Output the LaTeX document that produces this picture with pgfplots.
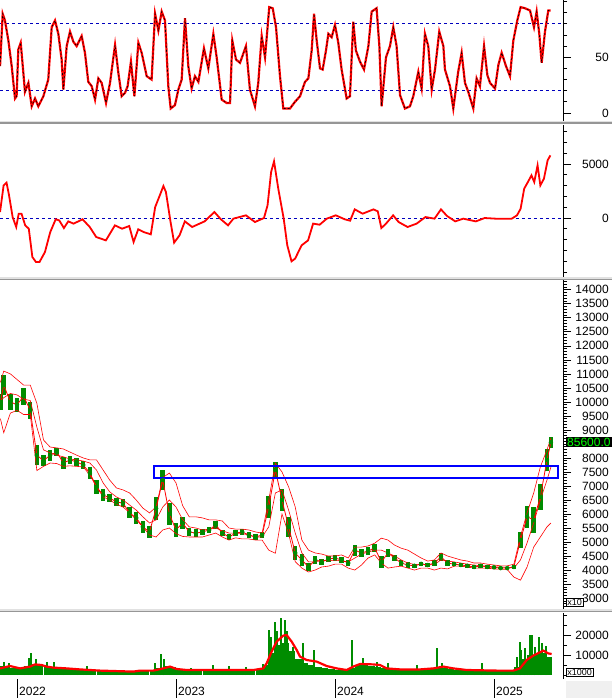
\documentclass[border=0pt]{standalone}
\usepackage{fontspec}
\setmainfont{Liberation Sans}
\usepackage{pgfplots}
\usepackage{pgfplotstable}
\pgfplotsset{compat=1.18}

\definecolor{candle}{RGB}{0,140,0}
\definecolor{volgreen}{RGB}{0,140,0}
\definecolor{refblue}{RGB}{0,0,190}
\definecolor{sepdark}{RGB}{150,150,150}
\definecolor{seplight}{RGB}{225,225,225}
\definecolor{lastgreen}{RGB}{0,255,0}

\pgfplotsset{
  panel/.style={
    scale only axis, width=563pt,
    xmin=-1.283, xmax=41.21,
    axis x line=none,
    axis y line*=right,
    y axis line style={-, line width=0.8pt},
    tick align=outside,
    major tick length=8pt, minor tick length=4pt,
    every tick/.style={black, line width=0.7pt},
    scaled y ticks=false,
    yticklabel style={anchor=east, inner sep=0pt, xshift=38pt,
      font=\fontsize{12}{14}\selectfont,
      /pgf/number format/fixed, /pgf/number format/1000 sep={},
      /pgf/number format/assume math mode=true},
  }
}

% stochastic oscillator
\pgfplotstableread{
m v
-1.28 42
-1.08 89
-0.91 83
-0.65 65
-0.40 42
-0.15 13
-0.03 15
0.10 57
0.28 63
0.48 36
0.60 19
0.86 27
1.11 6
1.36 13
1.61 6
1.99 15
2.36 30
2.62 77
2.87 83
3.12 71
3.37 48
3.50 21
3.75 60
4.00 73
4.25 64
4.50 60
4.88 69
5.13 54
5.38 28
5.64 24
5.89 12
6.14 31
6.39 27
6.72 9
7.02 27
7.40 61
7.65 36
7.90 15
8.15 18
8.35 24
8.60 46
8.86 15
9.16 63
9.41 54
9.79 33
10.16 30
10.42 89
10.67 74
10.92 91
11.17 83
11.42 24
11.60 4
11.92 7
12.18 21
12.43 30
12.68 85
12.93 42
13.18 22
13.43 33
13.69 28
14.11 58
14.44 40
14.82 71
15.07 50
15.45 12
15.82 9
16.08 9
16.25 65
16.53 48
16.83 45
17.28 60
17.58 21
17.96 6
18.21 27
18.47 69
18.72 50
19.04 95
19.30 94
19.55 77
19.85 33
20.10 4
20.60 4
20.98 10
21.36 15
21.74 28
21.99 31
22.24 56
22.42 89
22.62 65
22.87 40
23.07 39
23.32 56
23.50 71
23.75 68
24.00 79
24.25 63
24.50 39
24.88 13
25.13 15
25.38 82
25.58 56
25.89 46
26.19 39
26.52 60
26.77 91
27.14 94
27.35 60
27.52 6
27.85 50
28.15 60
28.40 77
28.65 60
28.91 16
29.28 4
29.66 6
29.91 15
30.29 37
30.54 22
30.79 71
31.04 60
31.30 21
31.55 39
31.87 73
32.18 60
32.30 39
32.68 24
32.93 4
33.30 37
33.56 54
33.81 27
34.06 19
34.44 4
34.69 31
34.94 24
35.25 60
35.50 34
35.70 27
36.08 22
36.33 43
36.58 54
36.91 42
37.21 33
37.46 65
37.76 83
38.01 95
38.34 94
38.72 92
39.02 77
39.22 91
39.42 71
39.60 45
39.85 73
40.10 92
40.28 92
}\osc

% MACD
\pgfplotstableread{
m v
-1.28 555
-1.01 3020
-0.79 3270
-0.60 2100
-0.33 90
-0.06 -830
0.13 400
0.34 400
0.62 -680
0.89 -990
1.16 -3610
1.43 -4070
1.70 -4070
2.11 -3150
2.51 -1300
2.92 -120
3.19 -220
3.54 -930
3.87 -310
4.27 -520
4.95 -120
5.49 -830
5.98 -1760
6.71 -2070
7.39 -680
7.93 -990
8.47 -740
8.80 -2220
9.15 -1050
9.56 -1300
10.10 -1510
10.43 1020
10.78 2100
11.05 2960
11.24 2410
11.59 -370
11.86 -2280
12.27 -1600
12.67 -310
13.22 -830
14.16 -310
14.90 555
15.39 -120
15.93 -680
16.33 -60
17.28 250
17.96 -370
18.64 0
18.91 1170
19.18 4260
19.40 5250
19.72 2716
20.13 -60
20.40 -2530
20.72 -4010
20.99 -3760
21.48 -2530
21.97 -2070
22.35 -520
22.84 -620
23.38 -60
24.06 250
24.74 -120
25.14 -250
25.49 800
26.09 400
26.90 800
27.23 620
27.50 -930
27.85 -520
28.39 250
28.80 -370
29.48 -830
30.16 -520
30.83 90
31.51 -60
32.00 800
32.46 185
33.08 -310
33.68 -60
34.63 -310
35.30 0
36.12 -60
37.34 -60
37.74 250
38.01 860
38.28 2716
38.56 3330
38.83 3950
39.04 3330
39.29 4880
39.50 3020
39.77 3640
40.05 5340
40.26 5800
}\macd

% price: close, half range, upper band, middle, lower band
\pgfplotstableread{
m c e u mid l
-1.25 10000 300 10700 10050 9400
-1.0 10600 350 11100 10150 8900
-0.5 10000 300 11000 10300 9600
0 9900 250 10800 10250 9700
0.5 10200 300 10600 10100 9550
1.0 9700 300 10600 10050 9550
1.5 8100 350 9950 9100 7550
2.0 7900 200 8640 8290 7700
2.5 8100 200 8390 8180 7820
3.0 8210 150 8360 8100 7800
3.5 7820 200 8320 8040 7700
4.0 7930 150 8210 7960 7720
4.5 7860 150 8100 7930 7700
5.0 7750 150 8000 7890 7680
5.5 7460 200 7930 7820 7390
6.0 6970 250 7930 7570 6970
6.5 6680 200 7570 7110 6610
7.0 6570 150 7210 6790 6500
7.5 6430 150 6930 6610 6350
8.0 6390 150 6860 6500 6250
8.5 6040 200 6750 6320 6050
9.0 5860 200 6500 6140 5790
9.5 5540 200 6210 5900 5540
10.0 5360 200 6040 5680 5250
10.5 6200 400 6250 5790 5180
11.0 7210 350 7300 6250 5430
11.5 6000 400 7460 6500 5500
12.0 5430 250 7110 6250 5300
12.5 5680 200 6300 5800 5200
13.0 5360 150 5900 5540 5180
13.5 5320 150 5900 5500 5180
14.0 5360 120 5860 5430 5180
14.5 5430 120 5790 5460 5250
15.0 5610 150 5790 5500 5320
15.5 5320 120 5750 5400 5180
16.0 5180 120 5500 5320 5070
16.5 5320 100 5460 5320 5150
17.0 5360 100 5460 5300 5110
17.5 5250 100 5430 5250 5110
18.0 5180 100 5360 5180 5070
18.5 5250 120 5320 5180 5070
19.0 6250 400 6500 5540 4710
19.5 7570 300 7820 6750 4600
20.0 6500 400 7500 6860 6000
20.5 5540 350 6970 6140 5300
21.0 4610 250 6250 5320 4300
21.5 4360 200 5070 4610 4070
22.0 4110 150 4710 4290 3930
22.5 4360 150 4610 4290 4000
23.0 4290 120 4570 4360 4110
23.5 4390 100 4500 4320 4140
24.0 4430 100 4500 4360 4210
24.5 4360 100 4540 4320 4210
25.0 4250 120 4430 4290 4070
25.5 4710 200 4820 4430 4000
26.0 4610 150 4820 4570 4180
26.5 4680 150 4860 4640 4430
27.0 4790 150 4960 4710 4540
27.5 4290 200 5140 4710 4250
28.0 4610 150 5070 4610 4070
28.5 4430 120 4890 4500 4110
29.0 4250 100 4780 4360 4140
29.5 4180 100 4710 4250 4070
30.0 4150 80 4570 4200 4000
30.5 4220 80 4430 4200 4070
31.0 4180 80 4320 4180 4070
31.5 4250 100 4360 4200 4000
32.0 4470 150 4610 4360 4070
32.5 4250 100 4500 4320 4040
33.0 4210 80 4430 4290 4140
33.5 4180 80 4360 4250 4140
34.0 4150 60 4320 4210 4110
34.5 4110 60 4250 4180 4070
35.0 4150 60 4250 4150 4070
35.5 4110 60 4210 4140 4070
36.0 4100 50 4180 4110 4040
36.5 4070 50 4150 4110 4030
37.0 4070 50 4150 4090 4020
37.5 4110 80 4210 4070 3750
38.0 5070 300 5200 4360 3640
38.5 5900 400 6040 4970 4110
39.0 5790 450 6750 5680 4820
39.5 6610 450 7680 6500 5180
40.0 7930 400 8290 7210 5540
40.3 8560 200 8710 7680 5680
}\price

% volume (base mass, spikes, moving average)
\pgfplotstableread{
m v
-1.25 4500
-0.75 4000
-0.25 3500
0.25 3000
0.75 4500
1.25 5500
1.75 5000
2.25 4500
2.75 4000
3.25 3800
3.75 3300
4.25 3000
4.75 2800
5.25 2500
5.75 2300
6.25 2200
6.75 2000
7.25 2000
7.75 2000
8.25 1800
8.75 1800
9.25 2000
9.75 2300
10.25 2500
10.75 3500
11.25 4500
11.75 4000
12.25 3000
12.75 2500
13.25 2500
13.75 2300
14.25 2300
14.75 2500
15.25 2300
15.75 2300
16.25 2300
16.75 2300
17.25 2300
17.75 2300
18.25 2800
18.75 5000
19.25 11000
19.75 15000
20.25 16000
20.75 12000
21.25 8000
21.75 6000
22.25 5000
22.75 4000
23.25 3500
23.75 3000
24.25 2500
24.75 2500
25.25 3500
25.75 5000
26.25 5000
26.75 4500
27.25 4000
27.75 3500
28.25 3000
28.75 2800
29.25 2800
29.75 2800
30.25 2800
30.75 3000
31.25 3200
31.75 3500
32.25 3500
32.75 3000
33.25 2500
33.75 2300
34.25 2200
34.75 2200
35.25 2200
35.75 2000
36.25 2000
36.75 2000
37.25 2200
37.75 4000
38.25 8000
38.75 10000
39.25 11000
39.75 11000
40.15 9000
}\volbase

\pgfplotstableread{
m v
-1.0 6500
-0.6 5800
0.9 8300
1.05 10800
1.4 8000
2.3 6500
2.8 6700
5.3 4700
10.4 5800
10.9 10300
11.1 8000
13.1 3500
14.8 5000
16.0 4500
17.3 4000
18.6 5500
19.0 22500
19.15 19000
19.45 26700
19.6 22000
19.95 28300
20.2 27500
20.4 22000
20.8 14200
21.6 15800
22.4 12500
25.3 17500
26.1 8300
27.2 6700
28.0 5800
30.2 4800
31.67 13300
32.1 5800
35.07 5800
37.7 9000
37.98 16700
38.05 12500
38.35 13500
38.71 20000
38.89 20000
39.1 14000
39.42 19200
39.6 16000
39.9 14500
}\volspike

\pgfplotstableread{
m v
-1.28 3300
-0.53 4500
0.23 3300
0.98 4200
1.36 5300
1.86 5000
2.24 4200
2.74 3700
3.75 3300
4.75 2800
6.26 2200
7.27 2000
8.78 1700
9.28 2200
10.29 2200
11.04 3300
11.55 4200
12.05 3000
12.81 2500
15.07 2500
17.84 2500
18.59 3300
18.84 5800
19.22 11700
19.60 16700
20.10 19700
20.35 20000
20.73 16700
21.11 12500
21.36 9200
21.86 7500
22.62 6700
23.37 4500
24.13 3300
24.88 2500
25.38 4200
25.89 5500
26.89 5300
27.40 5000
27.90 3300
28.91 2800
30.42 2800
31.42 3300
32.18 4200
32.93 3300
33.94 2500
36.20 2200
37.46 2200
37.96 3300
38.47 7500
38.97 9700
39.72 12200
40.10 10800
40.35 10500
}\volma

\begin{document}
\begin{tikzpicture}
\path[use as bounding box] (0,0) rectangle (612pt,-698pt);

% panel 1: stochastic
\begin{axis}[panel, at={(0pt,0pt)}, anchor=north west, height=121pt,
  ymin=-7.2, ymax=101.4, ytick={0,50}, minor ytick={10,20,...,100}]
\addplot[refblue, line width=0.8pt, dash pattern=on 3pt off 3pt] coordinates {(-1.3,80) (41.3,80)};
\addplot[refblue, line width=0.8pt, dash pattern=on 3pt off 3pt] coordinates {(-1.3,20) (41.3,20)};
\addplot[red, line width=2.2pt] table[x=m, y=v] {\osc};
\addplot[black, line width=0.6pt, dash pattern=on 2pt off 2pt] table[x=m, y=v] {\osc};
\end{axis}

% panel 2: MACD
\begin{axis}[panel, at={(0pt,-125pt)}, anchor=north west, height=152pt,
  ymin=-5460, ymax=8610, ytick={0,5000}, minor ytick={-5000,-4000,...,8000}]
\addplot[refblue, line width=0.8pt, dash pattern=on 3pt off 3pt] coordinates {(-1.3,0) (41.3,0)};
\addplot[red, line width=1.8pt] table[x=m, y=v] {\macd};
\end{axis}

% panel 3: price (8500 label sits under the last-price box)
\begin{axis}[panel, at={(0pt,-280pt)}, anchor=north west, height=329pt,
  ymin=2610, ymax=14350,
  ytick={3000,3500,4000,4500,5000,5500,6000,6500,7000,7500,8000,9000,9500,10000,10500,11000,11500,12000,12500,13000,13500,14000},
  extra y ticks={8500}, extra y tick labels={},
  minor ytick={2700,2800,...,14300}]
\addplot[candle, only marks, mark=none,
  error bars/.cd, y dir=both, y explicit, error mark=none,
  error bar style={candle, line width=4.5pt}]
  table[x=m, y=c, y error=e] {\price};
\addplot[red, line width=0.8pt] table[x=m, y=c] {\price};
\addplot[red, line width=0.6pt] table[x=m, y=u] {\price};
\addplot[red, line width=0.6pt] table[x=m, y=mid] {\price};
\addplot[red, line width=0.6pt] table[x=m, y=l] {\price};
\draw[blue, line width=2.5pt] (axis cs:10.34,7290) rectangle (axis cs:40.83,7720);
\end{axis}

% panel 4: volume
\begin{axis}[panel, at={(0pt,-613pt)}, anchor=north west, height=66pt,
  ymin=-2000, ymax=31000, ytick={10000,20000}, minor ytick={0,5000,...,30000},
  axis x line*=bottom, x axis line style={-, line width=0.8pt},
  xtick={-1,0,...,41}, xticklabels={}]
\addplot[volgreen, ycomb, line width=6.6pt] table[x=m, y=v] {\volbase};
\addplot[volgreen, ycomb, line width=2pt] table[x=m, y=v] {\volspike};
\addplot[red, line width=2.2pt] table[x=m, y=v] {\volma};
\end{axis}

% year ticks and labels
\foreach \xx/\yy in {17/2022,176/2023,335/2024,494/2025}{
  \draw[line width=0.8pt] (\xx pt,-679pt) -- (\xx pt,-698pt);
  \node[anchor=base west, inner sep=0pt, font=\fontsize{12}{14}\selectfont] at (\xx pt+2pt,-695pt) {\yy};
}

% separators
\foreach \yy in {121,277,609}{
  \fill[seplight] (0,-\yy pt) rectangle (612pt,-\yy pt-1.5pt);
  \fill[sepdark] (0,-\yy pt-1.5pt) rectangle (612pt,-\yy pt-3pt);
}

% boxes and labels on the right
\node[fill=black, text=lastgreen, anchor=west, inner sep=1pt, font=\fontsize{12}{14}\selectfont] at (566pt,-442pt) {85600.0};
\node[draw, fill=white, anchor=south west, inner sep=1pt, line width=0.6pt, font=\fontsize{9}{10}\selectfont] at (566pt,-607pt) {x10};
\node[draw, fill=white, anchor=south west, inner sep=1pt, line width=0.6pt, font=\fontsize{9}{10}\selectfont] at (566pt,-677pt) {x1000};
\fill[gray!12] (566pt,-681pt) rectangle (612pt,-698pt);
\end{tikzpicture}
\end{document}
